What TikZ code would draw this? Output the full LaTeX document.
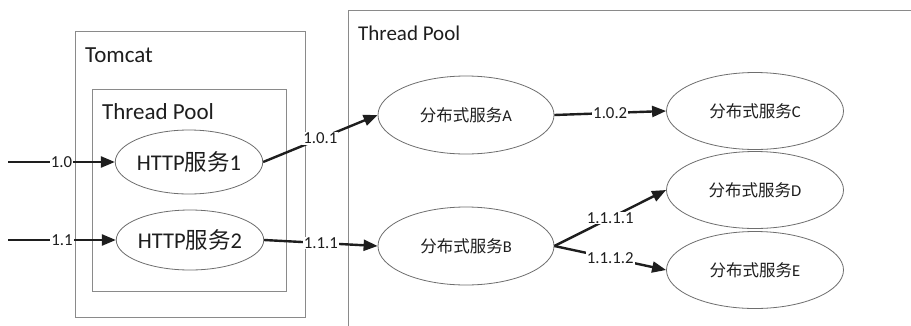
\documentclass[tikz,border=0pt]{standalone}
\usepackage{fontspec}
\setmainfont{Carlito}
\newfontfamily\cjk{Noto Sans CJK SC}
\usetikzlibrary{shapes.geometric,arrows.meta}
\definecolor{ink}{HTML}{1E1E1E}
\definecolor{boxgray}{HTML}{8A8A8A}
\definecolor{ellgray}{HTML}{6E6E6E}
\tikzset{
  frame/.style={draw=boxgray, line width=0.9pt},
  title/.style={anchor=west, inner sep=0pt, text=ink},
  svc/.style={ellipse, draw=ellgray, line width=0.8pt, inner sep=0pt, text=ink, fill=white},
  bigsvc/.style={svc, font=\fontsize{22.5}{22.5}\selectfont},
  smallsvc/.style={svc, font=\fontsize{16.5}{16.5}\selectfont},
  conn/.style={draw=ink, line width=2.4pt, -{Triangle[length=14pt,width=11pt]}},
  lbl/.style={fill=white, inner sep=1pt, text=ink, font=\fontsize{16.8}{16.8}\selectfont},
}
\begin{document}
\begin{tikzpicture}[x=1pt,y=-1pt]
\useasboundingbox (0,0) rectangle (911,325);
\fill[white] (0,0) rectangle (911,325);
% frames
\draw[frame] (75,31) rectangle (305,317);
\draw[frame] (92,89) rectangle (286,291);
\draw[frame] (348,335) -- (348,10) -- (920,10);
\node[title, font=\fontsize{23}{23}\selectfont] (tomcat) at (85,55) {Tomcat};
\node[title, font=\fontsize{23}{23}\selectfont] (tp1) at (102,112) {Thread Pool};
\node[title, font=\fontsize{21}{21}\selectfont] (tp2) at (358,33) {Thread Pool};
% services
\node[bigsvc, minimum width=142pt, minimum height=64pt] (h1) at (189,162) {HTTP{\cjk 服务}1};
\node[bigsvc, minimum width=144pt, minimum height=60pt] (h2) at (190,240) {HTTP{\cjk 服务}2};
\node[smallsvc, minimum width=176pt, minimum height=78pt] (a) at (466,115) {{\cjk 分布式服务}A};
\node[smallsvc, minimum width=176pt, minimum height=78pt] (b) at (466,246) {{\cjk 分布式服务}B};
\node[smallsvc, minimum width=177pt, minimum height=77pt] (c) at (755,111) {{\cjk 分布式服务}C};
\node[smallsvc, minimum width=177pt, minimum height=77pt] (d) at (755,190) {{\cjk 分布式服务}D};
\node[smallsvc, minimum width=177pt, minimum height=77pt] (e) at (755,270) {{\cjk 分布式服务}E};
% inputs
\coordinate (in1) at (8,162);
\coordinate (in2) at (8,240);
\draw[conn] (in1) -- node[lbl] {1.0} (h1.west);
\draw[conn] (in2) -- node[lbl] {1.1} (h2.west);
\draw[conn] (h1.east) -- node[lbl] {1.0.1} (a.west);
\draw[conn] (h2.east) -- node[lbl] {1.1.1} (b.west);
\draw[conn] (a.east) -- node[lbl] {1.0.2} (c.west);
\draw[conn] (b.east) -- node[lbl] {1.1.1.1} (d.west);
\draw[conn] (b.east) -- node[lbl] {1.1.1.2} (e.west);
\end{tikzpicture}
\end{document}
